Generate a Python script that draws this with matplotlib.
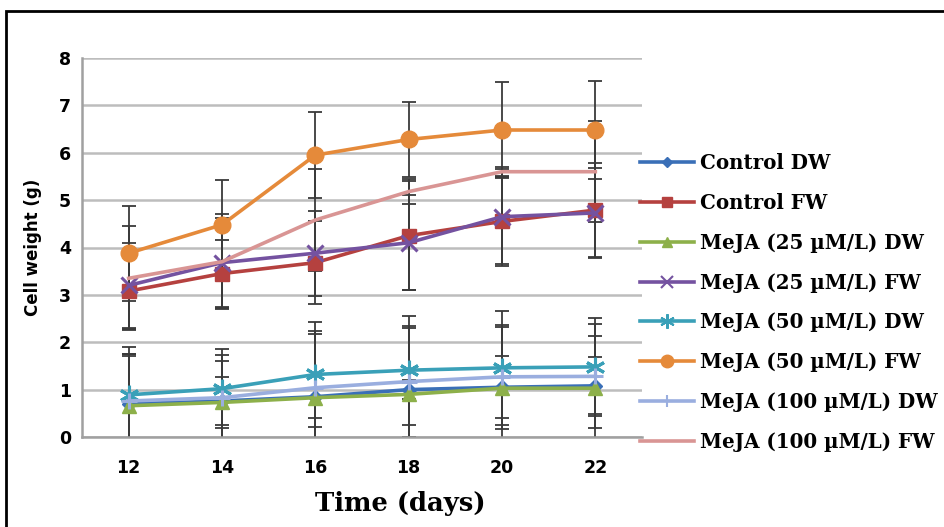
import matplotlib
matplotlib.use("Agg")
import matplotlib.pyplot as plt
from matplotlib.lines import Line2D
from matplotlib.patches import Rectangle

days = [12, 14, 16, 18, 20, 22]
labels = ["Control DW", "Control FW", "MeJA (25 µM/L) DW", "MeJA (25 µM/L) FW",
          "MeJA (50 µM/L) DW", "MeJA (50 µM/L) FW", "MeJA (100 µM/L) DW", "MeJA (100 µM/L) FW"]

control_dw = [0.70, 0.76, 0.85, 1.00, 1.05, 1.08]
control_fw = [3.08, 3.45, 3.68, 4.25, 4.55, 4.79]
meja25_dw = [0.66, 0.73, 0.83, 0.90, 1.03, 1.03]
meja25_fw = [3.20, 3.68, 3.88, 4.10, 4.65, 4.73]
meja50_dw = [0.89, 1.02, 1.32, 1.41, 1.46, 1.48]
meja50_fw = [3.88, 4.48, 5.95, 6.28, 6.48, 6.48]
meja100_dw = [0.76, 0.83, 1.04, 1.17, 1.27, 1.28]
meja100_fw = [3.35, 3.70, 4.58, 5.18, 5.60, 5.60]

control_dw_err = [1.00, 0.50, 0.45, 0.20, 0.65, 0.60]
control_fw_err = [0.80, 0.70, 0.87, 1.15, 0.93, 1.00]
meja25_dw_err = [1.10, 0.87, 1.35, 1.40, 1.30, 1.10]
meja25_fw_err = [0.90, 0.95, 0.90, 1.00, 1.00, 0.95]
meja50_dw_err = [1.00, 0.83, 1.10, 1.15, 1.20, 1.03]
meja50_fw_err = [1.00, 0.95, 0.91, 0.80, 1.02, 1.03]
meja100_dw_err = [1.00, 0.90, 1.20, 1.18, 1.10, 1.10]
meja100_fw_err = [1.10, 1.00, 1.07, 0.26, 0.10, 1.06]

series = [control_dw, control_fw, meja25_dw, meja25_fw, meja50_dw, meja50_fw, meja100_dw, meja100_fw]
errors = [control_dw_err, control_fw_err, meja25_dw_err, meja25_fw_err,
          meja50_dw_err, meja50_fw_err, meja100_dw_err, meja100_fw_err]
colors = ["#3A6FB7", "#B5413F", "#8DB04A", "#7452A0", "#3AA0B8", "#E58A3A", "#9AAEDF", "#D99594"]
markers = ["D", "s", "^", "x", (6, 2, 0), "o", "+", None]
msizes = [7, 10, 10, 11, 14, 12, 11, 0]

fig = plt.figure(figsize=(9.44, 5.27), dpi=100)
ax = fig.add_axes([82/944, 1-437/527, (642-82)/944, (437-58)/527])

for i, (vals, err) in enumerate(zip(series, errors)):
    ax.errorbar(days, vals, yerr=err, fmt="none", ecolor="#3a3a3a", elinewidth=1.3,
                capsize=5, capthick=1.3, zorder=2)

handles = []
for i, vals in enumerate(series):
    kw = dict(color=colors[i], lw=2.6, zorder=3 + i)
    if markers[i] is not None:
        mew = 1 if markers[i] in ("D", "s", "^", "o") else 2.2
        ax.plot(days, vals, marker=markers[i], markersize=msizes[i], markeredgewidth=mew,
                markeredgecolor=colors[i], markerfacecolor=colors[i], **kw)
        handles.append(Line2D([], [], color=colors[i], lw=2.6, marker=markers[i],
                              markersize=msizes[i] * 0.75, markeredgewidth=min(mew, 1.5),
                              markeredgecolor=colors[i], markerfacecolor=colors[i]))
    else:
        ax.plot(days, vals, **kw)
        handles.append(Line2D([], [], color=colors[i], lw=2.6))

ax.set_xlim(11, 23)
ax.set_ylim(0, 8)
ax.set_xticks(days)
ax.set_yticks(range(0, 9))
ax.grid(axis="y", color="#bdbdbd", lw=1.8)
ax.set_axisbelow(True)
for s in ["top", "right"]:
    ax.spines[s].set_visible(False)
for s in ["left", "bottom"]:
    ax.spines[s].set_color("#a0a0a0")
    ax.spines[s].set_linewidth(1.8)
ax.tick_params(axis="both", length=0, pad=8)
for lab in ax.get_xticklabels() + ax.get_yticklabels():
    lab.set_fontweight("bold")
    lab.set_fontsize(12.5)
    lab.set_family("DejaVu Sans")
ax.tick_params(axis="x", pad=16)

ax.set_xlabel("Time (days)", fontsize=18.6, fontweight="bold", family="DejaVu Serif")
ax.xaxis.set_label_coords((400 - 82) / 560, -(503 - 437) / 379, transform=ax.transAxes)
ax.xaxis.label.set_va("center")
ax.set_ylabel("Cell weight (g)", fontsize=12, fontweight="bold", family="DejaVu Sans", labelpad=12)

fig.legend(handles, labels, loc="upper left", bbox_to_anchor=(632/944, 1-145/527),
           frameon=False, handlelength=2.7, labelspacing=1.0, handletextpad=0.3,
           borderaxespad=0, prop=dict(family="DejaVu Serif", weight="bold", size=14.3))

fig.patches.append(Rectangle((6/944, -0.1), 1.1, 1 - 11/527 + 0.1, transform=fig.transFigure,
                             fill=False, edgecolor="black", lw=2.0))

fig.savefig("out.png", dpi=100)
